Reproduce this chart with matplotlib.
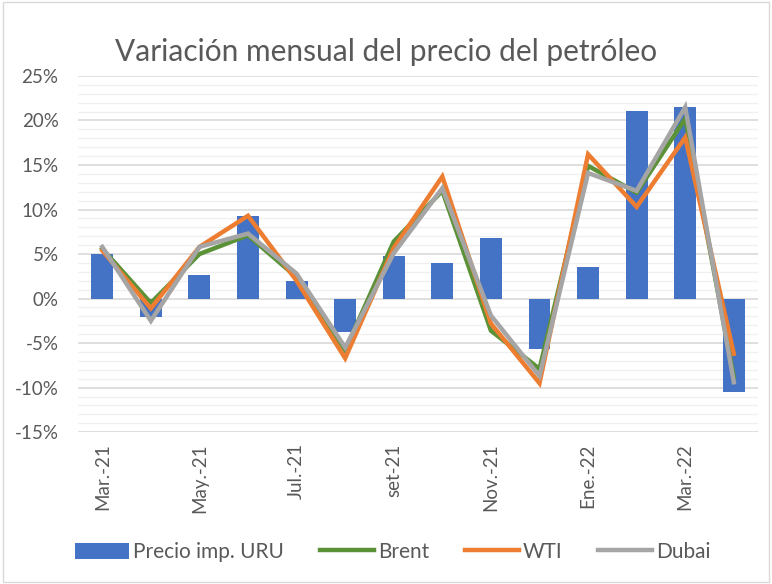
import matplotlib
matplotlib.use("Agg")
import matplotlib.pyplot as plt
from matplotlib.ticker import MultipleLocator, FuncFormatter
from matplotlib.patches import Rectangle
import numpy as np

meses = ["Mar.-21", "Abr.-21", "May.-21", "Jun.-21", "Jul.-21", "Ago.-21", "set-21",
         "Oct.-21", "Nov.-21", "Dic.-21", "Ene.-22", "Feb.-22", "Mar.-22", "Abr.-22"]
precio_uru = [5.0, -2.1, 2.6, 9.3, 2.0, -3.8, 4.8, 4.0, 6.8, -5.7, 3.5, 21.1, 21.5, -10.5]
brent = [5.6, -0.5, 5.0, 7.1, 2.4, -5.8, 6.4, 12.1, -3.6, -7.9, 14.9, 11.9, 20.2, -8.8]
wti = [5.4, -1.1, 5.8, 9.3, 2.0, -6.7, 5.7, 13.7, -2.8, -9.5, 16.2, 10.3, 18.1, -6.2]
dubai = [5.8, -2.5, 5.8, 7.3, 2.8, -5.5, 5.1, 12.4, -1.9, -8.7, 14.1, 12.1, 21.5, -9.4]
tick_idx = [0, 2, 4, 6, 8, 10, 12]

plt.rcParams['font.family'] = ['Lato', 'DejaVu Sans']
txt = "#595959"

fig = plt.figure(figsize=(7.72, 5.84), dpi=100)
fig.patches.append(Rectangle((0.004, 0.003), 0.992, 0.994, transform=fig.transFigure,
                             fill=False, edgecolor="#d9d9d9", linewidth=1.0))
ax = fig.add_axes([0.101, 0.260, 0.881, 0.610])
x = np.arange(len(meses))

ax.bar(x, precio_uru, width=0.45, color="#4472C4", label="Precio imp. URU", zorder=2)
ax.plot(x, brent, color="#5B9237", lw=3.2, label="Brent", zorder=3, solid_joinstyle="miter")
ax.plot(x, wti, color="#ED7D31", lw=3.2, label="WTI", zorder=4, solid_joinstyle="miter")
ax.plot(x, dubai, color="#A5A5A5", lw=3.2, label="Dubai", zorder=5, solid_joinstyle="miter")

ax.set_xlim(-0.5, len(meses) - 0.5)
ax.set_ylim(-15, 25)
ax.yaxis.set_major_locator(MultipleLocator(5))
ax.yaxis.set_minor_locator(MultipleLocator(1))
ax.yaxis.set_major_formatter(FuncFormatter(lambda v, p: f"{v:.0f}%"))
ax.grid(which="major", axis="y", color="#d9d9d9", lw=1.2, zorder=0)
ax.grid(which="minor", axis="y", color="#f0f0f0", lw=1.0, zorder=0)
ax.set_axisbelow(True)
for s in ax.spines.values():
    s.set_visible(False)
ax.set_xticks([x[i] for i in tick_idx])
ax.set_xticklabels([meses[i] for i in tick_idx], rotation=90, fontsize=13.5, color=txt)
ax.tick_params(axis="both", which="both", length=0)
ax.tick_params(axis="x", pad=8)
ax.tick_params(axis="y", labelsize=13.5, labelcolor=txt, pad=14)

fig.text(0.5, 0.911, "Variación mensual del precio del petróleo", ha="center", va="center",
         fontsize=21.5, color=txt)

h, l = ax.get_legend_handles_labels()
order = [3, 0, 1, 2]
leg = fig.legend([h[i] for i in order], [l[i] for i in order], loc="center",
                 bbox_to_anchor=(0.509, 0.055), ncol=4, frameon=False, fontsize=15,
                 handlelength=2.6, handleheight=0.8, columnspacing=1.7, handletextpad=0.2,
                 labelcolor=txt)

fig.savefig("out.png", dpi=100)
